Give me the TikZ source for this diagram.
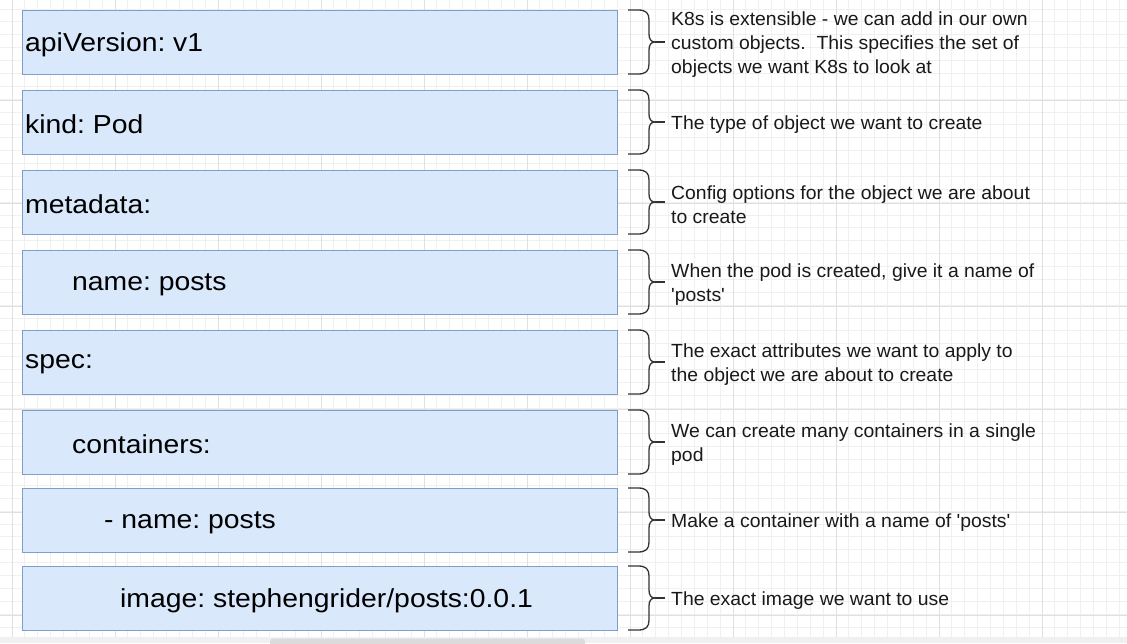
\documentclass[tikz,border=0pt]{standalone}
\usepackage{fontspec}
\setmainfont{Liberation Sans}
\newfontfamily\codefont{Liberation Sans}[FakeStretch=1.09]
\newfontfamily\descfont{Liberation Sans}[FakeStretch=1.02]
\definecolor{boxfill}{HTML}{DAE8FC}
\definecolor{boxline}{HTML}{7F9FCB}
\definecolor{gridminor}{HTML}{F0F0F0}
\definecolor{gridmajor}{HTML}{E0E0E0}
\definecolor{bracecol}{HTML}{333333}
\tikzset{
  codebox/.style={draw=boxline, fill=boxfill, line width=1.2pt, minimum width=595pt, minimum height=64pt, inner sep=0pt, anchor=north west},
  codetext/.style={anchor=west, inner sep=0pt, font=\codefont\fontsize{26}{30}\selectfont\frenchspacing, text=black},
  desc/.style={anchor=west, inner sep=0pt, align=left, font=\descfont\fontsize{19}{24}\selectfont\frenchspacing, text=black!90},
  bracestyle/.style={draw=bracecol, line width=1.3pt}
}
\begin{document}
\begin{tikzpicture}[x=1pt,y=-1pt]
\useasboundingbox (0,0) rectangle (1127,643);
\fill[white] (0,0) rectangle (1127,643);
% grid
\foreach \k in {0,...,88} {
  \pgfmathsetmacro\gx{-0.875+12.875*\k}
  \draw[gridminor, line width=0.8pt] (\gx,0) -- (\gx,643);
}
\foreach \k in {0,...,51} {
  \pgfmathsetmacro\gy{9+12.875*\k}
  \draw[gridminor, line width=0.8pt] (0,\gy) -- (1127,\gy);
}
\foreach \k in {0,...,11} {
  \pgfmathsetmacro\gx{12+103*\k}
  \draw[gridmajor, line width=0.9pt] (\gx,0) -- (\gx,643);
}
\foreach \k in {0,...,6} {
  \pgfmathsetmacro\gy{-3+103*\k}
  \draw[gridmajor, line width=0.9pt] (0,\gy) -- (1127,\gy);
}
% boxes
\node[codebox] (b1) at (22,10) {};
\node[codebox] (b2) at (22,90) {};
\node[codebox] (b3) at (22,170) {};
\node[codebox] (b4) at (22,250) {};
\node[codebox] (b5) at (22,330) {};
\node[codebox] (b6) at (22,410) {};
\node[codebox] (b7) at (22,488) {};
\node[codebox] (b8) at (22,566) {};
% texts
\node[codetext] (t1) at ([xshift=3pt,yshift=-2pt]b1.west) {apiVersion: v1};
\node[codetext] (t2) at ([xshift=3pt,yshift=-2pt]b2.west) {kind: Pod};
\node[codetext] (t3) at ([xshift=3pt,yshift=-2pt]b3.west) {metadata:};
\node[codetext] (t4) at ([xshift=50pt,yshift=-2pt]b4.west) {name: posts};
\node[codetext] (t5) at ([xshift=3pt,yshift=-2pt]b5.west) {spec:};
\node[codetext] (t6) at ([xshift=50pt,yshift=-2pt]b6.west) {containers:};
\node[codetext] (t7) at ([xshift=82pt,yshift=-2pt]b7.west) {- name: posts};
\node[codetext] (t8) at ([xshift=98pt,yshift=-2pt]b8.west) {image: stephengrider/posts:0.0.1};
% braces
\foreach \t/\b in {10/74, 90/154, 170/234, 250/314, 330/394, 410/474, 488/552, 566/630} {
  \pgfmathsetmacro\m{(\t+\b)/2}
  \draw[bracestyle] (628,\t) -- (638,\t) .. controls (646,\t) and (649,\t+3) .. (649,\t+10) -- (649,\m-8) .. controls (649,\m-3) and (651,\m) .. (655,\m) .. controls (651,\m) and (649,\m+3) .. (649,\m+8) -- (649,\b-10) .. controls (649,\b-3) and (646,\b) .. (638,\b) -- (628,\b);
  \draw[bracestyle] (655,\m) -- (665,\m);
}
% descriptions
\node[desc] (d1) at (671,45) {K8s is extensible - we can add in our own\\custom objects.\ \ This specifies the set of\\objects we want K8s to look at};
\node[desc] (d2) at (671,125) {The type of object we want to create};
\node[desc] (d3) at (671,205) {Config options for the object we are about\\to create};
\node[desc] (d4) at (671,285) {When the pod is created, give it a name of\\'posts'};
\node[desc] (d5) at (671,365) {The exact attributes we want to apply to\\the object we are about to create};
\node[desc] (d6) at (671,445) {We can create many containers in a single\\pod};
\node[desc] (d7) at (671,523) {Make a container with a name of 'posts'};
\node[desc] (d8) at (671,601) {The exact image we want to use};
% bottom scroll strip
\fill[black!6] (0,637) rectangle (1127,643);
\fill[black!14, rounded corners=3pt] (270,638.5) rectangle (585,648);
\end{tikzpicture}
\end{document}
